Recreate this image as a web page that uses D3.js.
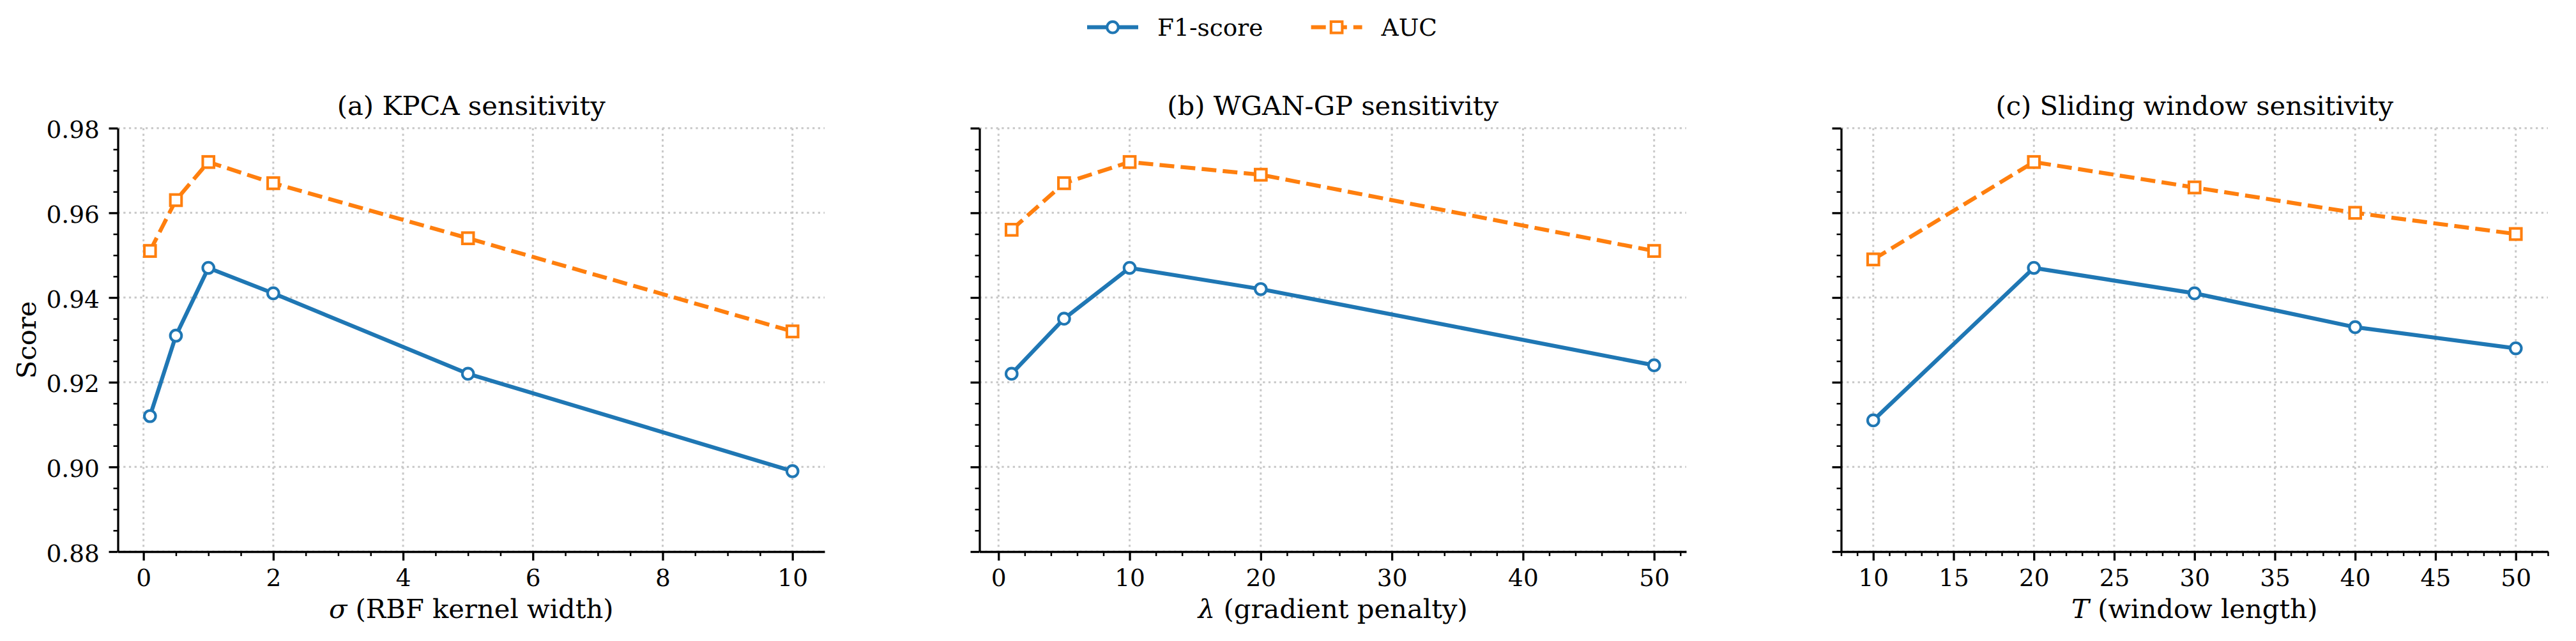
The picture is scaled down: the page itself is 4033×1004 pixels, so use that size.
<!DOCTYPE html>
<html>
<head>
<meta charset="utf-8">
<script src="https://cdn.jsdelivr.net/npm/d3@7"></script>
<style>
  body { margin: 0; background: #fff; }
  svg { display: block; font-family: "DejaVu Serif", serif; }
</style>
</head>
<body>
<div id="chart"></div>
<script>
// values
const sigmaX = [0.1, 0.5, 1, 2, 5, 10];
const sigmaF1 = [0.912, 0.931, 0.947, 0.941, 0.922, 0.899];
const sigmaAUC = [0.951, 0.963, 0.972, 0.967, 0.954, 0.932];

const lambdaX = [1, 5, 10, 20, 50];
const lambdaF1 = [0.922, 0.935, 0.947, 0.942, 0.924];
const lambdaAUC = [0.956, 0.967, 0.972, 0.969, 0.951];

const windowX = [10, 20, 30, 40, 50];
const windowF1 = [0.911, 0.947, 0.941, 0.933, 0.928];
const windowAUC = [0.949, 0.972, 0.966, 0.960, 0.955];

const titles = ["(a) KPCA sensitivity", "(b) WGAN-GP sensitivity", "(c) Sliding window sensitivity"];
const xSymbols = ["σ", "λ", "T"];
const xLabelRest = [" (RBF kernel width)", " (gradient penalty)", " (window length)"];
const xMajor = [[0, 2, 4, 6, 8, 10], [0, 10, 20, 30, 40, 50], [10, 15, 20, 25, 30, 35, 40, 45, 50]];
const xMinorStep = [0.5, 2, 1];
const yMajor = [0.88, 0.90, 0.92, 0.94, 0.96, 0.98];
const seriesNames = ["F1-score", "AUC"];

const colors = ["#1f77b4", "#ff7f0e"];

const width = 4033, height = 1004;
const svg = d3.select("#chart").append("svg")
    .attr("width", width)
    .attr("height", height)
    .attr("viewBox", [0, 0, width, height]);

svg.append("rect").attr("width", width).attr("height", height).attr("fill", "#fff");

// axes boxes
const panelLeft = [184.5, 1533.5, 2882.5];
const panelW = 1106.5;
const axTop = 200.7, axBottom = 864;

const panels = [
    { x: sigmaX, f1: sigmaF1, auc: sigmaAUC },
    { x: lambdaX, f1: lambdaF1, auc: lambdaAUC },
    { x: windowX, f1: windowF1, auc: windowAUC }
];

const y = d3.scaleLinear().domain([0.88, 0.98]).range([axBottom, axTop]);
const yMinor = d3.range(0, 21).map(i => +(0.88 + i * 0.005).toFixed(3)).filter(v => !yMajor.some(m => Math.abs(m - v) < 1e-9));

const lw = 6.25;
const msize = 17.6, mew = 4.1;

panels.forEach((p, i) => {
    const lo = d3.min(p.x), hi = d3.max(p.x);
    const pad = (hi - lo) * 0.05;
    const x = d3.scaleLinear().domain([lo - pad, hi + pad]).range([panelLeft[i], panelLeft[i] + panelW]);
    const [d0, d1] = x.domain();
    const minor = [];
    for (let v = Math.ceil(d0 / xMinorStep[i]) * xMinorStep[i]; v <= d1 + 1e-9; v += xMinorStep[i]) {
        const r = +v.toFixed(3);
        if (!xMajor[i].some(m => Math.abs(m - r) < 1e-9)) minor.push(r);
    }

    const g = svg.append("g");

    // grid
    const grid = g.append("g")
        .attr("stroke", "#c8c8c8")
        .attr("stroke-width", 3)
        .attr("stroke-dasharray", "3.3 5.4");
    grid.selectAll(".gx").data(xMajor[i]).join("line")
        .attr("x1", d => x(d)).attr("x2", d => x(d))
        .attr("y1", axTop).attr("y2", axBottom);
    grid.selectAll(".gy").data(yMajor).join("line")
        .attr("x1", panelLeft[i]).attr("x2", panelLeft[i] + panelW)
        .attr("y1", d => y(d)).attr("y2", d => y(d));

    // x axis
    const xAxis = g.append("g")
        .attr("transform", `translate(0,${axBottom})`)
        .call(d3.axisBottom(x).tickValues(xMajor[i]).tickFormat(d3.format("d")).tickSize(14).tickSizeOuter(0).tickPadding(14.6));
    xAxis.append("g")
        .call(d3.axisBottom(x).tickValues(minor).tickFormat("").tickSize(7).tickSizeOuter(0))
        .call(a => a.select(".domain").remove())
        .selectAll("line").attr("stroke-width", 2.5);

    // y axis
    const yAxis = g.append("g")
        .attr("transform", `translate(${panelLeft[i]},0)`)
        .call(d3.axisLeft(y).tickValues(yMajor).tickFormat(i === 0 ? d3.format(".2f") : "").tickSize(14).tickSizeOuter(0).tickPadding(14.6));
    yAxis.append("g")
        .call(d3.axisLeft(y).tickValues(yMinor).tickFormat("").tickSize(7).tickSizeOuter(0))
        .call(a => a.select(".domain").remove())
        .selectAll("line").attr("stroke-width", 2.5);

    [xAxis, yAxis].forEach(a => {
        a.selectAll(".domain").attr("stroke", "#000").attr("stroke-width", 3.3);
        a.selectAll(".tick line").filter(function () { return d3.select(this).attr("stroke-width") == null; })
            .attr("stroke-width", 3.3);
        a.selectAll("text").attr("font-size", 37.5).attr("fill", "#000").attr("font-family", "DejaVu Serif");
    });
    xAxis.selectAll(".tick text").attr("dy", null).attr("y", 54.3);
    yAxis.selectAll(".tick text").attr("dy", "0.4em");

    // lines + markers
    const series = [p.f1, p.auc];
    series.forEach((vals, k) => {
        const pts = p.x.map((xv, j) => [x(xv), y(vals[j])]);
        g.append("path")
            .attr("d", d3.line()(pts))
            .attr("fill", "none")
            .attr("stroke", colors[k])
            .attr("stroke-width", lw)
            .attr("stroke-linejoin", "round")
            .attr("stroke-dasharray", k === 1 ? "23.1 10" : null);
        if (k === 0) {
            g.append("g").selectAll("circle").data(pts).join("circle")
                .attr("cx", d => d[0]).attr("cy", d => d[1]).attr("r", msize / 2)
                .attr("fill", "#fff").attr("stroke", colors[k]).attr("stroke-width", mew);
        } else {
            g.append("g").selectAll("rect").data(pts).join("rect")
                .attr("x", d => d[0] - msize / 2).attr("y", d => d[1] - msize / 2)
                .attr("width", msize).attr("height", msize)
                .attr("fill", "#fff").attr("stroke", colors[k]).attr("stroke-width", mew);
        }
    });

    // title
    g.append("text")
        .attr("x", panelLeft[i] + panelW / 2)
        .attr("y", 180)
        .attr("text-anchor", "middle")
        .attr("font-size", 41.7)
        .text(titles[i]);

    // x label
    const xl = g.append("text")
        .attr("x", panelLeft[i] + panelW / 2)
        .attr("y", 968)
        .attr("text-anchor", "middle")
        .attr("font-size", 41.7);
    xl.append("tspan").attr("font-style", "italic").text(xSymbols[i]);
    xl.append("tspan").text(xLabelRest[i]);
});

// y label
svg.append("text")
    .attr("transform", `translate(56,${(axTop + axBottom) / 2}) rotate(-90)`)
    .attr("text-anchor", "middle")
    .attr("font-size", 41.7)
    .text("Score");

// legend
const legend = svg.append("g");
const handleStart = [1702, 2052.6];
seriesNames.forEach((name, k) => {
    const lx = handleStart[k], ly = 42.7;
    legend.append("line")
        .attr("x1", lx).attr("x2", lx + 80)
        .attr("y1", ly).attr("y2", ly)
        .attr("stroke", colors[k]).attr("stroke-width", lw)
        .attr("stroke-dasharray", k === 1 ? "23.1 10" : null);
    if (k === 0) {
        legend.append("circle").attr("cx", lx + 40).attr("cy", ly).attr("r", msize / 2)
            .attr("fill", "#fff").attr("stroke", colors[k]).attr("stroke-width", mew);
    } else {
        legend.append("rect").attr("x", lx + 40 - msize / 2).attr("y", ly - msize / 2)
            .attr("width", msize).attr("height", msize)
            .attr("fill", "#fff").attr("stroke", colors[k]).attr("stroke-width", mew);
    }
    legend.append("text")
        .attr("x", lx + 110)
        .attr("y", 56)
        .attr("font-size", 37.5)
        .text(name);
});
</script>
</body>
</html>
